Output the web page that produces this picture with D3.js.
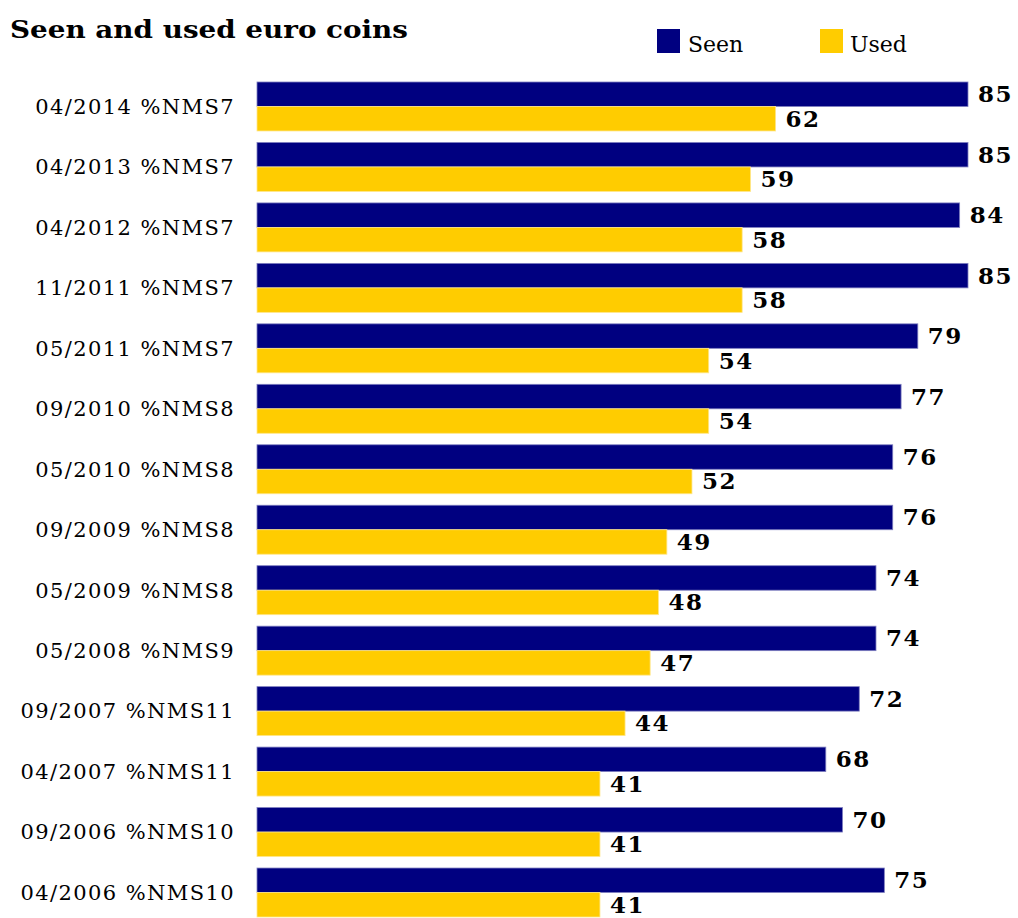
<!DOCTYPE html>
<html><head><meta charset="utf-8">
<script src="https://cdn.jsdelivr.net/npm/d3@7"></script>
<style>body{margin:0;background:#fff}svg{display:block}</style>
</head><body>
<script>
const categories = ["04/2014 %NMS7","04/2013 %NMS7","04/2012 %NMS7","11/2011 %NMS7","05/2011 %NMS7","09/2010 %NMS8","05/2010 %NMS8","09/2009 %NMS8","05/2009 %NMS8","05/2008 %NMS9","09/2007 %NMS11","04/2007 %NMS11","09/2006 %NMS10","04/2006 %NMS10"];
const seen = [85,85,84,85,79,77,76,76,74,74,72,68,70,75];
const used = [62,59,58,58,54,54,52,49,48,47,44,41,41,41];
const seriesNames = ["Seen","Used"];
const colors = ["#000080","#FFCC00"];

const W = 1018, H = 918;
const svg = d3.select("body").append("svg").attr("width", W).attr("height", H);
const font = "'DejaVu Serif', Georgia, serif";

const x = d3.scaleLinear().domain([0, 85]).range([257, 968]);
const y = d3.scaleBand().domain(categories).range([82, 917]).paddingInner(0.19).paddingOuter(0).align(0);
const sub = d3.scaleBand().domain(seriesNames).range([0, y.bandwidth()]);

svg.append("text").attr("x", 10).attr("y", 38).attr("font-family", font)
  .attr("font-weight", "bold").attr("font-size", 25).attr("fill", "#000")
  .attr("textLength", 398).attr("lengthAdjust", "spacingAndGlyphs").text("Seen and used euro coins");

// legend
const lg = [{n:"Seen", x:657, tx:688},{n:"Used", x:820, tx:850}];
lg.forEach((d,i)=>{
  svg.append("rect").attr("x", d.x).attr("y", 29).attr("width", 23).attr("height", 24).attr("fill", colors[i]);
  svg.append("text").attr("x", d.tx).attr("y", 52).attr("font-family", font).attr("font-size", 22).attr("fill","#000").text(d.n);
});

const data = categories.map((c,i)=>({c, vals:[seen[i], used[i]]}));
const g = svg.append("g");
const grp = g.selectAll("g.grp").data(data).join("g").attr("transform", d=>`translate(0,${y(d.c)})`);
grp.each(function(d){
  const gg = d3.select(this);
  d.vals.forEach((v,k)=>{
    const s = seriesNames[k];
    gg.append("rect").attr("x", x(0)).attr("y", sub(s)).attr("width", x(v)-x(0)).attr("height", sub.bandwidth())
      .attr("fill", colors[k]).attr("stroke", k===0 ? "#7f7fc0" : "#ffe68a").attr("stroke-width", 0.8);
    gg.append("text").attr("x", x(v)+10).attr("y", sub(s)+sub.bandwidth()/2+8)
      .attr("font-family", font).attr("font-weight","bold").attr("font-size", 23).attr("letter-spacing", 1.5)
      .attr("fill","#000").text(v);
  });
});

// category axis labels
const yAxis = d3.axisLeft(y).tickSize(0).tickPadding(0);
const ax = svg.append("g").attr("transform", `translate(235,0)`).call(yAxis);
ax.select(".domain").remove();
ax.selectAll("text").attr("font-family", font).attr("font-size", 21).attr("letter-spacing", 1.4)
  .attr("fill","#000").attr("dy","0.35em");
</script>
</body></html>
